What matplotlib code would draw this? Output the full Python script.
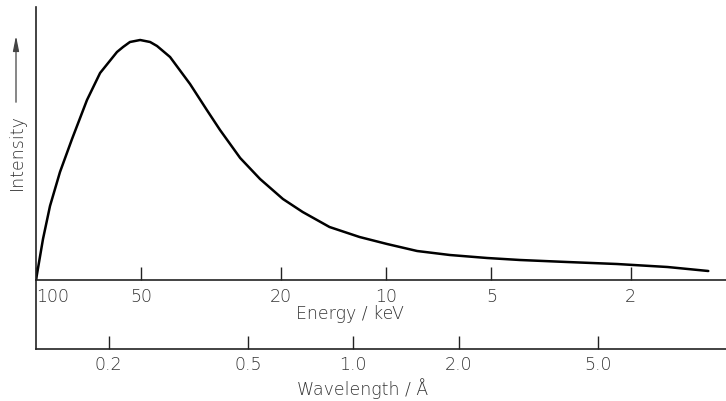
import matplotlib
matplotlib.use("Agg")
import matplotlib.pyplot as plt

# Data (energy in keV, intensity in arbitrary units)
energy_kev = [100, 95.5, 91.2, 85.4, 78.9, 71.5, 65.6, 58.7, 56.4, 53.9, 50.4, 47.2, 45.1, 41.4,
              36.3, 32.5, 29.8, 26.1, 22.9, 19.7, 17.3, 14.5, 11.9, 9.93, 8.15,
              6.57, 5.14, 4.14, 3.04, 2.19, 1.57, 1.20]
intensity = [0, 41, 74, 108, 141, 180, 207, 228, 233, 238, 240, 238, 234, 223,
             196, 170, 150, 122, 101, 81, 68, 53, 43, 36, 29,
             25, 22, 20, 18, 16, 13, 9]

energy_ticks = [100, 50, 20, 10, 5, 2]
energy_labels = ["100", "50", "20", "10", "5", "2"]
wavelength_ticks = [0.2, 0.5, 1.0, 2.0, 5.0]
wavelength_labels = ["0.2", "0.5", "1.0", "2.0", "5.0"]
HC = 12.398  # keV·Å

W, H = 726, 402
fig = plt.figure(figsize=(W / 100, H / 100), dpi=100)
fig.patch.set_facecolor("white")

font = dict(family=["DejaVu Sans"], fontweight="light", color="#333333")
fs = 12.5

x_left, x_right = 36, 726
y_energy, y_top, y_wave = 281, 8, 350
xlim = (100, 100 * 10 ** (-(x_right - x_left) / 350))

ax = fig.add_axes([x_left / W, 1 - y_energy / H, (x_right - x_left) / W, (y_energy - y_top) / H])
ax.set_xscale("log")
ax.set_xlim(*xlim)
ax.set_ylim(0, y_energy - y_top)
ax.plot(energy_kev, intensity, color="black", lw=1.8, solid_joinstyle="round", solid_capstyle="round")
for s in ["top", "right"]:
    ax.spines[s].set_visible(False)
for s in ["left", "bottom"]:
    ax.spines[s].set_linewidth(1.2)
    ax.spines[s].set_color("#222222")
ax.set_yticks([])
ax.xaxis.set_minor_locator(matplotlib.ticker.NullLocator())
ax.set_xticks(energy_ticks)
ax.set_xticklabels(energy_labels, fontsize=fs, **font)
ax.tick_params(axis="x", direction="in", length=9.5, width=1.0, pad=5, colors="#222222", labelcolor="#333333")
labs = ax.get_xticklabels()
labs[0].set_horizontalalignment("left")

fig.text((296 + 403) / 2 / W, 1 - 314 / H, "Energy / keV", ha="center", va="center", fontsize=fs, **font)

# Wavelength axis
ax2 = fig.add_axes([x_left / W, 1 - y_wave / H, (x_right - x_left) / W, (y_wave - y_energy) / H])
ax2.set_xscale("log")
ax2.set_xlim(*xlim)
ax2.set_ylim(0, 1)
ax2.patch.set_alpha(0)
for s in ["top", "right"]:
    ax2.spines[s].set_visible(False)
for s in ["left", "bottom"]:
    ax2.spines[s].set_linewidth(1.2)
    ax2.spines[s].set_color("#222222")
ax2.set_yticks([])
ax2.xaxis.set_minor_locator(matplotlib.ticker.NullLocator())
ax2.set_xticks([HC / w for w in wavelength_ticks])
ax2.set_xticklabels(wavelength_labels, fontsize=fs, **font)
ax2.tick_params(axis="x", direction="in", length=9.5, width=1.0, pad=4, colors="#222222", labelcolor="#333333")

fig.text(363 / W, 1 - 389 / H, "Wavelength / Å", ha="center", va="center", fontsize=fs, **font)

# Intensity label with arrow
fig.text(17 / W, 1 - 152 / H, "Intensity", rotation=90, ha="center", va="center", fontsize=fs, **font)
ax.annotate("", xy=(16 / W, 1 - 34 / H), xytext=(16 / W, 1 - 106 / H),
            xycoords="figure fraction", textcoords="figure fraction",
            arrowprops=dict(arrowstyle="-|>,head_length=0.9,head_width=0.18", color="#444444", lw=0.9))

fig.savefig("out.png", dpi=100)
